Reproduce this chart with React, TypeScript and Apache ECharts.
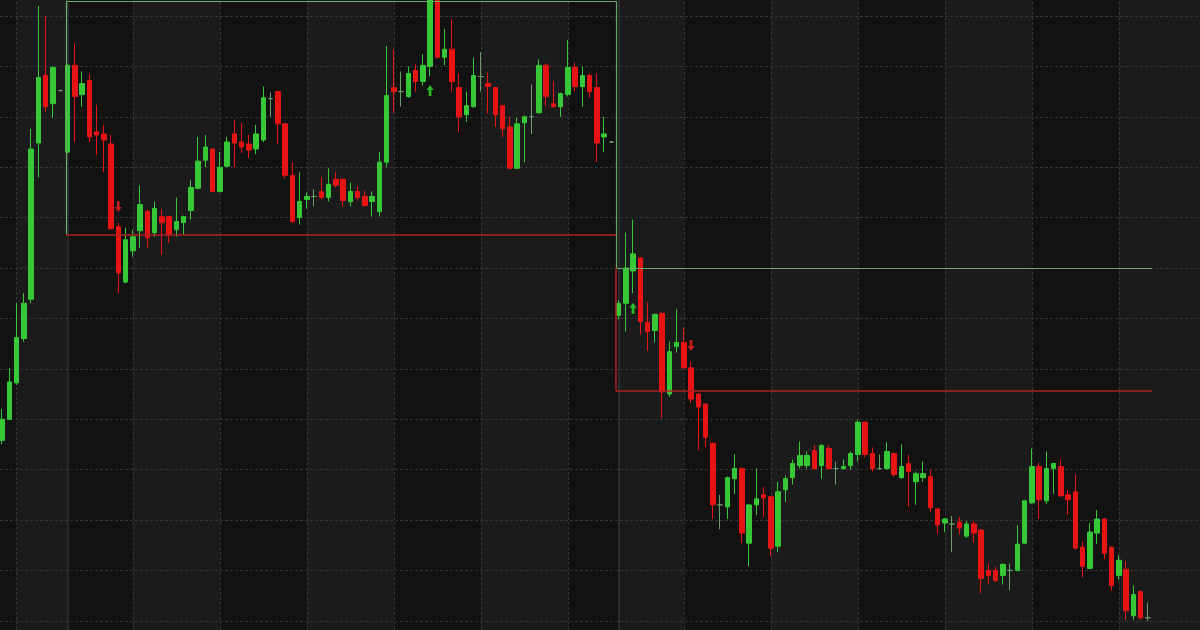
import React, { useEffect, useRef } from 'react';
import * as echarts from 'echarts';

// one row per candle: [open, close, low, high]
const candles: number[][] = [
    [1179, 1200, 1175, 1210], [1200, 1237, 1199, 1251], [1236, 1281, 1234, 1315], [1280, 1315, 1277, 1325],
    [1319, 1468, 1315, 1488], [1474, 1539, 1440, 1610], [1541, 1510, 1505, 1600], [1513, 1549, 1499, 1550],
    [1526, 1526, 1525, 1527], [1465, 1551, 1464, 1552], [1551, 1520, 1475, 1573], [1522, 1533, 1510, 1545],
    [1536, 1480, 1475, 1542], [1485, 1482, 1462, 1512], [1483, 1477, 1445, 1492], [1473, 1389, 1388, 1482],
    [1391, 1345, 1325, 1395], [1336, 1378, 1335, 1390], [1367, 1381, 1361, 1388], [1387, 1413, 1370, 1432],
    [1406, 1380, 1370, 1408], [1385, 1409, 1381, 1416], [1401, 1395, 1363, 1408], [1401, 1383, 1375, 1402],
    [1388, 1396, 1381, 1420], [1395, 1401, 1383, 1402], [1407, 1430, 1398, 1437], [1429, 1456, 1428, 1480],
    [1457, 1470, 1450, 1482], [1468, 1426, 1425, 1469], [1426, 1450, 1425, 1465], [1451, 1475, 1450, 1480],
    [1483, 1474, 1450, 1497], [1475, 1470, 1464, 1494], [1473, 1467, 1459, 1482], [1468, 1483, 1463, 1492],
    [1477, 1519, 1475, 1530], [1518, 1518, 1500, 1524], [1525, 1493, 1473, 1526], [1493, 1442, 1439, 1494],
    [1442, 1396, 1395, 1455], [1400, 1416, 1393, 1445], [1418, 1421, 1409, 1425], [1421, 1421, 1411, 1428],
    [1426, 1420, 1418, 1440], [1420, 1433, 1416, 1449], [1438, 1432, 1430, 1445], [1438, 1417, 1411, 1439],
    [1416, 1426, 1411, 1435], [1426, 1420, 1417, 1431], [1421, 1412, 1411, 1427], [1416, 1421, 1401, 1426],
    [1406, 1455, 1401, 1465], [1455, 1521, 1450, 1570], [1529, 1525, 1504, 1567], [1525, 1525, 1510, 1545],
    [1520, 1543, 1519, 1550], [1546, 1535, 1525, 1552], [1535, 1551, 1531, 1562], [1550, 1618, 1540, 1622],
    [1616, 1559, 1558, 1620], [1559, 1567, 1551, 1587], [1567, 1535, 1525, 1597], [1529, 1500, 1485, 1543],
    [1502, 1511, 1495, 1525], [1510, 1541, 1509, 1559], [1540, 1540, 1525, 1564], [1533, 1530, 1503, 1544],
    [1529, 1502, 1490, 1530], [1511, 1488, 1480, 1512], [1490, 1449, 1448, 1500], [1449, 1493, 1448, 1499],
    [1494, 1500, 1455, 1501], [1500, 1500, 1483, 1532], [1504, 1551, 1503, 1557], [1551, 1520, 1511, 1553],
    [1513, 1510, 1509, 1535], [1510, 1523, 1500, 1524], [1522, 1549, 1520, 1576], [1549, 1530, 1525, 1554],
    [1530, 1541, 1510, 1550], [1541, 1525, 1519, 1543], [1529, 1474, 1455, 1543], [1480, 1483, 1465, 1500],
    [1475, 1475, 1474, 1476], [1303, 1315, 1299, 1318], [1315, 1350, 1287, 1385], [1347, 1364, 1325, 1398],
    [1360, 1297, 1284, 1361], [1296, 1287, 1268, 1316], [1288, 1304, 1276, 1305], [1305, 1227, 1201, 1306],
    [1225, 1267, 1222, 1277], [1272, 1276, 1266, 1309], [1276, 1251, 1250, 1291], [1251, 1220, 1216, 1257],
    [1225, 1212, 1169, 1226], [1215, 1182, 1172, 1216], [1176, 1115, 1101, 1177], [1115, 1115, 1091, 1125],
    [1113, 1142, 1101, 1143], [1141, 1151, 1126, 1165], [1151, 1087, 1077, 1152], [1077, 1115, 1054, 1116],
    [1115, 1121, 1105, 1151], [1125, 1122, 1103, 1133], [1123, 1072, 1064, 1124], [1074, 1128, 1068, 1138],
    [1130, 1141, 1118, 1144], [1142, 1156, 1135, 1160], [1154, 1164, 1151, 1178], [1154, 1164, 1151, 1168],
    [1169, 1151, 1150, 1174], [1154, 1174, 1141, 1175], [1171, 1151, 1150, 1174], [1151, 1151, 1135, 1158],
    [1151, 1153, 1150, 1160], [1154, 1166, 1150, 1168], [1165, 1197, 1158, 1199], [1197, 1165, 1162, 1198],
    [1166, 1151, 1148, 1172], [1151, 1151, 1150, 1165], [1151, 1168, 1150, 1177], [1166, 1145, 1143, 1167],
    [1142, 1153, 1141, 1175], [1156, 1148, 1113, 1165], [1138, 1146, 1115, 1148], [1142, 1146, 1138, 1158],
    [1143, 1112, 1108, 1150], [1111, 1095, 1086, 1112], [1097, 1101, 1088, 1102], [1096, 1096, 1068, 1104],
    [1098, 1092, 1086, 1103], [1084, 1096, 1082, 1099], [1096, 1087, 1078, 1099], [1090, 1042, 1027, 1091],
    [1050, 1045, 1036, 1057], [1050, 1040, 1039, 1054], [1045, 1056, 1036, 1057], [1050, 1050, 1030, 1057],
    [1050, 1076, 1049, 1095], [1077, 1119, 1076, 1120], [1117, 1153, 1116, 1171], [1153, 1120, 1101, 1157],
    [1119, 1151, 1116, 1168], [1151, 1156, 1126, 1157], [1153, 1124, 1123, 1160], [1125, 1120, 1105, 1130],
    [1128, 1072, 1071, 1145], [1073, 1054, 1043, 1079], [1052, 1088, 1051, 1097], [1087, 1101, 1076, 1110],
    [1101, 1067, 1061, 1102], [1073, 1035, 1030, 1074], [1045, 1060, 1041, 1065], [1051, 1010, 1001, 1059],
    [1005, 1026, 1001, 1035], [1029, 1003, 1001, 1030], [1003, 1003, 1000, 1018]
];

// horizontal grid levels
const priceLevels = [1000, 1050, 1100, 1150, 1200, 1250, 1300, 1350, 1400, 1450, 1500, 1550, 1600];

// dashed time lines and solid session breaks (candle index)
const timeLines = [2, 18, 30, 42, 54, 66, 78, 94, 106, 118, 130, 142, 154];
const sessionBreaks = [9, 85];

// lighter background bands [from, to] (candle index)
const lightBands = [[2, 9], [18, 30], [42, 54], [66, 78], [85, 94], [106, 118], [130, 142], [154, 166]];

// range box edges: [x1, y1, x2, y2], high side green, low side red
const highEdges = [
    [8.79, 1615, 84.66, 1615],
    [8.79, 1615, 8.79, 1383],
    [84.66, 1615, 84.66, 1350],
    [84.66, 1350, 158.6, 1350]
];
const lowEdges = [
    [8.79, 1383, 84.66, 1383],
    [84.66, 1350, 84.66, 1228],
    [84.66, 1228, 158.6, 1228]
];

// signal arrows [candle index, price]
const buySignals = [[59, 1526], [87, 1310]];
const sellSignals = [[16, 1411], [95, 1273]];

const UP_ARROW = 'path://M5,0L10,5L7,5L7,11L3,11L3,5L0,5Z';
const DOWN_ARROW = 'path://M3,0L7,0L7,6L10,6L5,11L0,6L3,6Z';

const App: React.FC = () => {
    const chartRef = useRef<HTMLDivElement>(null);

    useEffect(() => {
        if (!chartRef.current) return;
        const chart = echarts.init(chartRef.current, undefined, { renderer: 'svg' });

        const edgeData = (edges: number[][], color: string, width: number) =>
            edges.map(e => [
                { coord: [e[0], e[1]], lineStyle: { color, width, type: 'solid' } },
                { coord: [e[2], e[3]] }
            ]);

        const option = {
            animation: false,
            backgroundColor: '#121212',
            grid: { left: 0, right: 0, top: 0, bottom: 0 },
            xAxis: { type: 'value', min: -0.31, max: 165.2, show: false },
            yAxis: { type: 'value', min: 990.87, max: 1615.87, show: false },
            series: [
                {
                    type: 'line',
                    data: [],
                    silent: true,
                    markArea: {
                        silent: true,
                        z: 0,
                        itemStyle: { color: '#1b1b1b' },
                        data: lightBands.map(b => [{ xAxis: b[0] }, { xAxis: b[1] }])
                    },
                    markLine: {
                        silent: true,
                        z: 1,
                        symbol: ['none', 'none'],
                        label: { show: false },
                        lineStyle: { color: '#343434', width: 1, type: [3, 2] },
                        data: [
                            ...priceLevels.map(v => ({ yAxis: v })),
                            ...timeLines.map(v => ({ xAxis: v })),
                            ...sessionBreaks.map(v => ({
                                xAxis: v,
                                lineStyle: { color: '#333333', width: 1.5, type: 'solid' }
                            }))
                        ]
                    }
                },
                {
                    type: 'candlestick',
                    z: 2,
                    barWidth: 5,
                    dimensions: ['idx', 'open', 'close', 'low', 'high'],
                    encode: { x: 0, y: [1, 2, 3, 4] },
                    data: candles.map((c, i) => [i, ...c]),
                    itemStyle: {
                        color: '#36c836',
                        color0: '#e61414',
                        borderColor: '#36c836',
                        borderColor0: '#e61414',
                        borderColorDoji: '#6a9e6a',
                        borderWidth: 1
                    }
                },
                {
                    type: 'line',
                    data: [],
                    silent: true,
                    markLine: {
                        silent: true,
                        z: 3,
                        symbol: ['none', 'none'],
                        label: { show: false },
                        data: [
                            ...edgeData(highEdges, '#69a969', 1.2),
                            ...edgeData(lowEdges, '#b02222', 1.5)
                        ]
                    }
                },
                {
                    type: 'scatter',
                    z: 4,
                    silent: true,
                    symbol: UP_ARROW,
                    symbolSize: [7, 11],
                    itemStyle: { color: '#2ee62e' },
                    data: buySignals
                },
                {
                    type: 'scatter',
                    z: 4,
                    silent: true,
                    symbol: DOWN_ARROW,
                    symbolSize: [7, 11],
                    itemStyle: { color: '#ee2020' },
                    data: sellSignals
                }
            ]
        };

        chart.setOption(option);

        return () => {
            chart.dispose();
        };
    }, []);

    return (
        <div
            ref={chartRef}
            style={{ position: 'fixed', left: 0, top: 0, width: 1200, height: 630 }}
        />
    );
};

export default App;
